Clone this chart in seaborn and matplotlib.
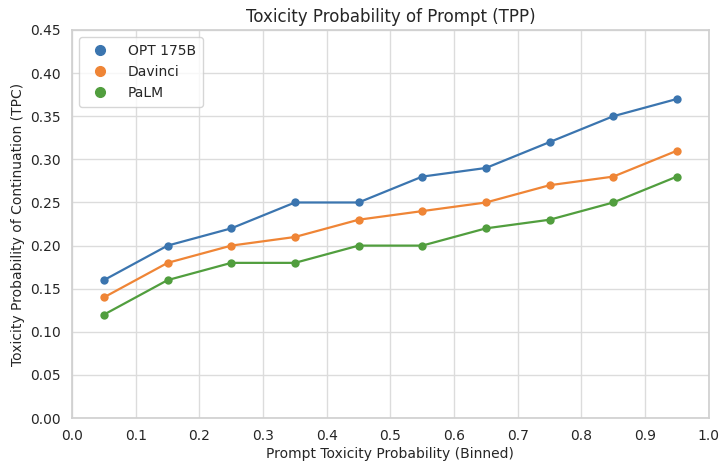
import numpy as np
import pandas as pd
import seaborn as sns
import matplotlib
matplotlib.use("Agg")
import matplotlib.pyplot as plt
from matplotlib.lines import Line2D

bins = [0.05, 0.15, 0.25, 0.35, 0.45, 0.55, 0.65, 0.75, 0.85, 0.95]
opt = [0.16, 0.20, 0.22, 0.25, 0.25, 0.28, 0.29, 0.32, 0.35, 0.37]
davinci = [0.14, 0.18, 0.20, 0.21, 0.23, 0.24, 0.25, 0.27, 0.28, 0.31]
palm = [0.12, 0.16, 0.18, 0.18, 0.20, 0.20, 0.22, 0.23, 0.25, 0.28]
models = ["OPT 175B", "Davinci", "PaLM"]
colors = ["#3b75af", "#ef8536", "#519e3e"]

df = pd.DataFrame({
    "x": bins * 3,
    "y": opt + davinci + palm,
    "model": [m for m in models for _ in bins],
})

sns.set_theme(style="whitegrid", rc={"grid.color": "#dcdcdc", "axes.edgecolor": "#d0d0d0"})
plt.rcParams["font.family"] = ["DejaVu Sans"]

fig, ax = plt.subplots(figsize=(7.21, 4.61), dpi=100)
sns.lineplot(data=df, x="x", y="y", hue="model", palette=colors, marker="o",
             markersize=6, markeredgewidth=0, linewidth=1.6, ax=ax, legend=False)

ax.set_xlim(0, 1.0)
ax.set_ylim(0, 0.45)
ax.set_xticks(np.arange(0, 1.01, 0.1))
ax.set_yticks(np.arange(0, 0.451, 0.05))
ax.set_xticklabels([f"{v:.1f}" for v in np.arange(0, 1.01, 0.1)])
ax.set_yticklabels([f"{v:.2f}" for v in np.arange(0, 0.451, 0.05)])
ax.tick_params(labelsize=10, pad=2)
ax.set_xlabel("Prompt Toxicity Probability (Binned)", fontsize=10, labelpad=3)
ax.set_ylabel("Toxicity Probability of Continuation (TPC)", fontsize=10, labelpad=4)
ax.set_title("Toxicity Probability of Prompt (TPP)", fontsize=12, pad=6)

handles = [Line2D([], [], marker="o", color=c, linestyle="none", markersize=7) for c in colors]
ax.legend(handles, models, loc="upper left", fontsize=10, frameon=True,
          handletextpad=1.0, borderpad=0.5)

fig.subplots_adjust(left=0.1, right=0.983, top=0.935, bottom=0.093)
fig.savefig("out.png", dpi=100)
